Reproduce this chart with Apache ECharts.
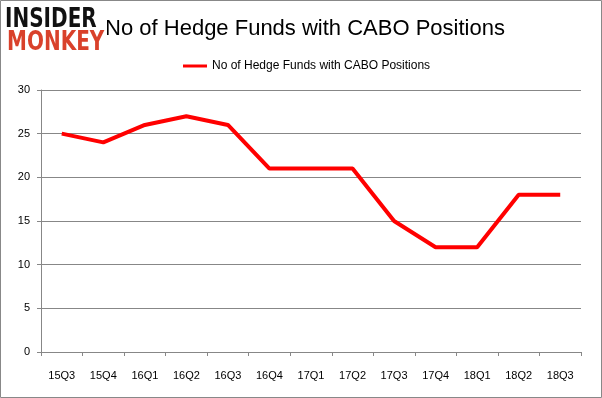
<!DOCTYPE html>
<html>
<head>
<meta charset="utf-8">
<script src="https://cdn.jsdelivr.net/npm/echarts@6/dist/echarts.min.js"></script>
<style>
  html, body { margin: 0; padding: 0; background: #fff; }
  #chart { width: 602px; height: 398px; }
</style>
</head>
<body>
<div id="chart"></div>
<script>
// quarters on the x axis
var quarters = ['15Q3', '15Q4', '16Q1', '16Q2', '16Q3', '16Q4', '17Q1', '17Q2', '17Q3', '17Q4', '18Q1', '18Q2', '18Q3'];
// number of hedge funds holding CABO
var fundCounts = [25, 24, 26, 27, 26, 21, 21, 21, 15, 12, 12, 18, 18];
var seriesName = 'No of Hedge Funds with CABO Positions';

var gridColor = '#878787';
var lineRed = '#ff0000';

var myChart = echarts.init(document.getElementById('chart'));
var option = {
  animation: false,
  backgroundColor: '#fff',
  title: {
    text: seriesName,
    left: 300,
    textAlign: 'center',
    top: 13,
    textStyle: { fontFamily: 'Liberation Sans', fontSize: 22, fontWeight: 'normal', color: '#000' }
  },
  legend: {
    data: [seriesName],
    top: 55,
    left: 178,
    itemWidth: 24,
    itemHeight: 3,
    itemGap: 4,
    icon: 'rect',
    textStyle: { fontFamily: 'Liberation Sans', fontSize: 12, color: '#000' }
  },
  grid: { left: 41, right: 21, top: 90, bottom: 46 },
  xAxis: {
    type: 'category',
    data: quarters,
    boundaryGap: true,
    axisLine: { lineStyle: { color: gridColor } },
    axisTick: { show: true, length: 4, lineStyle: { color: gridColor } },
    axisLabel: { margin: 18, fontFamily: 'Liberation Sans', fontSize: 11, color: '#000' }
  },
  yAxis: {
    type: 'value',
    min: 0,
    max: 30,
    interval: 5,
    axisLine: { show: true, lineStyle: { color: gridColor } },
    axisTick: { show: true, length: 4, lineStyle: { color: gridColor } },
    splitLine: { lineStyle: { color: gridColor } },
    axisLabel: { margin: 11, fontFamily: 'Liberation Sans', fontSize: 11, color: '#000' }
  },
  series: [{
    name: seriesName,
    type: 'line',
    data: fundCounts,
    symbol: 'none',
    color: lineRed,
    lineStyle: { width: 4, color: lineRed }
  }],
  graphic: [
    {
      type: 'rect',
      shape: { x: 0.5, y: 0.5, width: 601, height: 397 },
      style: { fill: 'none', stroke: '#888', lineWidth: 1 },
      silent: true
    },
    {
      type: 'rect',
      shape: { x: 3, y: 6, width: 104, height: 46 },
      style: { fill: '#fff' },
      z: 100
    },
    {
      type: 'text',
      x: 5, y: 7,
      scaleY: 1.3,
      z: 101,
      style: { text: 'INSIDER', fill: '#111', fontFamily: 'DejaVu Sans', fontWeight: 'bold', fontSize: 20 }
    },
    {
      type: 'text',
      x: 7, y: 30,
      scaleY: 1.3,
      z: 101,
      style: { text: 'MONKEY', fill: '#d9412b', fontFamily: 'DejaVu Sans', fontWeight: 'bold', fontSize: 20 }
    }
  ]
};
myChart.setOption(option);
</script>
</body>
</html>
